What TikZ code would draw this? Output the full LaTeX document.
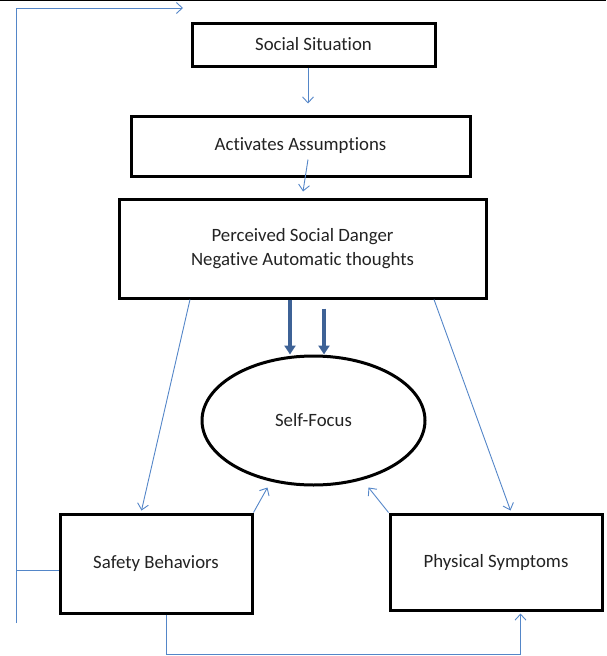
\documentclass[tikz,border=0pt]{standalone}
\usepackage{fontspec}
\setmainfont[Ligatures={NoCommon}]{Carlito}
\usetikzlibrary{arrows.meta,shapes.geometric,calc}
\definecolor{conn}{RGB}{84,134,200}
\definecolor{thickblue}{RGB}{62,98,150}
\definecolor{txt}{RGB}{35,35,35}
\begin{document}
\begin{tikzpicture}[x=1pt,y=-1pt,
  box/.style={draw=black,line width=3pt,fill=white,rectangle,inner sep=0pt,
    align=center,text=txt,font=\fontsize{18.8}{24}\selectfont},
  oval/.style={draw=black,line width=3pt,fill=white,ellipse,inner sep=0pt,
    text=txt,font=\fontsize{18.8}{24}\selectfont},
  conn/.style={draw=conn,line width=0.9pt,-{Straight Barb[length=6pt,width=11pt]}},
  plain/.style={draw=conn,line width=0.9pt},
  fat/.style={draw=thickblue,line width=4.5pt,-{Triangle[length=9pt,width=11pt]}}]
\useasboundingbox (0,0) rectangle (606,656);
\draw[black,line width=1pt] (0,0.5) -- (606,0.5);

\node[box,minimum width=243pt,minimum height=43pt] (ss) at (313.5,44.5) {Social Situation};
\node[box,minimum width=339pt,minimum height=60pt] (aa) at (300.5,146) {Activates Assumptions};
\node[box,minimum width=367pt,minimum height=99pt] (pd) at (302.5,248.5) {Perceived Social Danger\\Negative Automatic thoughts};
\node[oval,minimum width=223pt,minimum height=129pt] (sf) at (313.5,420.5) {\raisebox{-1.5pt}{Self-Focus}};
\node[box,minimum width=192pt,minimum height=99pt] (sb) at (156,563.5) {Safety Behaviors};
\node[box,minimum width=212pt,minimum height=96pt] (ps) at (496,562) {Physical Symptoms};

\coordinate (loopbot) at (16,623);
\coordinate (loopmid) at (16,570);
\coordinate (looptop) at (16,8);
\coordinate (looptip) at (183,8);

\draw[conn] ([xshift=-5.5pt]ss.south) -- ([xshift=7.5pt,yshift=11pt]aa.north);
\draw[conn] ([xshift=7.5pt,yshift=18pt]aa.south) -- ([xshift=0.5pt,yshift=6pt]pd.north);
\draw[fat] ([xshift=-12.5pt]pd.south) -- ([xshift=-23.5pt]sf.north);
\draw[fat] ([xshift=21.5pt,yshift=-9pt]pd.south) -- ([xshift=10.5pt]sf.north);
\draw[conn] ([xshift=72.5pt]pd.south west) -- ([xshift=83pt,yshift=2pt]sb.north west);
\draw[conn] ([xshift=-53.5pt]pd.south east) -- ([xshift=122pt,yshift=2pt]ps.north west);
\draw[conn] (sb.north east) -- ([xshift=-46pt,yshift=-1pt]sf.south);
\draw[conn] (ps.north west) -- ([xshift=55pt,yshift=-1pt]sf.south);
\draw[plain] ([yshift=-6.5pt]sb.west) -- (loopmid);
\draw[conn] (loopbot) -- (looptop) -- (looptip);
\draw[conn] ([xshift=108pt]sb.south west) -- ++(0,40) -| ([xshift=132pt,yshift=-2pt]ps.south west);
\end{tikzpicture}
\end{document}
